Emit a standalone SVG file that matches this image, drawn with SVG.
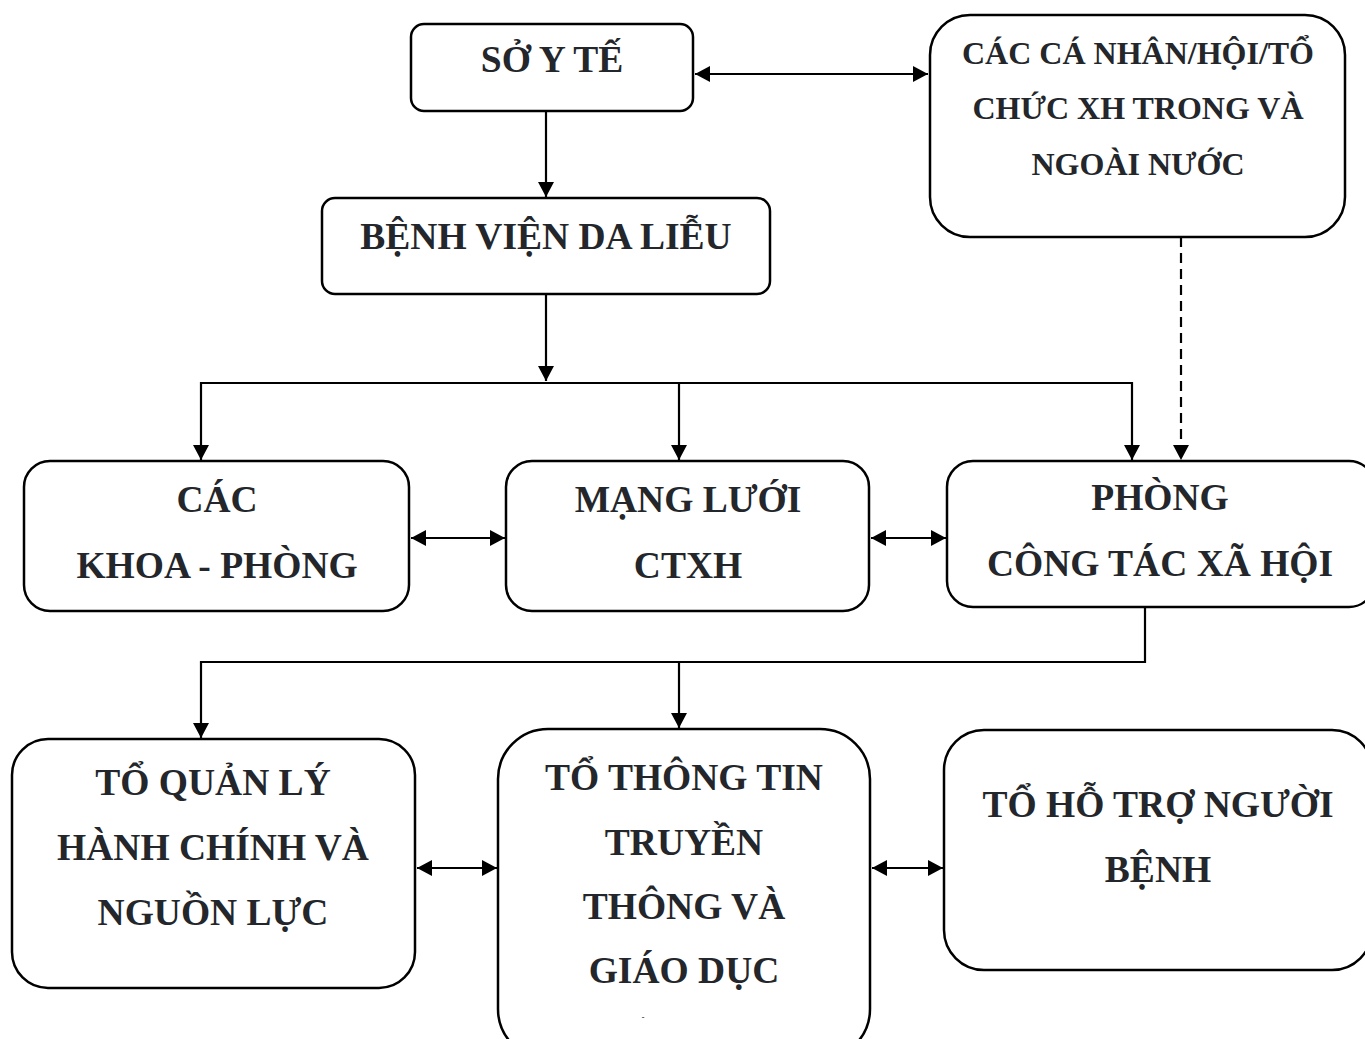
<svg xmlns="http://www.w3.org/2000/svg" width="1365" height="1039" viewBox="0 0 1365 1039">
<style>
.box{fill:#fff;stroke:#000;stroke-width:2.5}
.t{font-family:"Liberation Serif","Times New Roman",serif;font-weight:bold;fill:#23262a;text-anchor:middle}
.l{fill:none;stroke:#000;stroke-width:2.2}
.d{fill:none;stroke:#000;stroke-width:2.2;stroke-dasharray:10,6}
</style>
<defs>
<marker id="ah" markerUnits="userSpaceOnUse" markerWidth="16" markerHeight="16" refX="15" refY="8" orient="auto-start-reverse">
<path d="M0,0 L15,8 L0,16 Z" fill="#000"/>
</marker>
</defs>
<rect width="1365" height="1039" fill="#fff"/>
<g id="connectors">
<line class="l" x1="695" y1="74" x2="928" y2="74" marker-start="url(#ah)" marker-end="url(#ah)"/>
<line class="l" x1="546" y1="111" x2="546" y2="197" marker-end="url(#ah)"/>
<line class="l" x1="546" y1="294" x2="546" y2="381" marker-end="url(#ah)"/>
<polyline class="l" points="201,460 201,383 1132,383 1132,460" marker-start="url(#ah)" marker-end="url(#ah)"/>
<line class="l" x1="679" y1="383" x2="679" y2="460" marker-end="url(#ah)"/>
<line class="d" x1="1181" y1="237" x2="1181" y2="460" marker-end="url(#ah)"/>
<line class="l" x1="411" y1="538" x2="505" y2="538" marker-start="url(#ah)" marker-end="url(#ah)"/>
<line class="l" x1="871" y1="538" x2="946" y2="538" marker-start="url(#ah)" marker-end="url(#ah)"/>
<polyline class="l" points="1145,607 1145,662 201,662 201,738" marker-end="url(#ah)"/>
<line class="l" x1="679" y1="662" x2="679" y2="728" marker-end="url(#ah)"/>
<line class="l" x1="417" y1="868" x2="497" y2="868" marker-start="url(#ah)" marker-end="url(#ah)"/>
<line class="l" x1="872" y1="868" x2="943" y2="868" marker-start="url(#ah)" marker-end="url(#ah)"/>
</g>
<g id="so-y-te">
<rect class="box" x="411" y="24" width="282" height="87" rx="13"/>
<text class="t" x="552" y="72" font-size="37.5">SỞ Y TẾ</text>
</g>
<g id="ca-nhan">
<rect class="box" x="930" y="15" width="415" height="222" rx="40"/>
<text class="t" x="1138" y="64" font-size="32">CÁC CÁ NHÂN/HỘI/TỔ</text>
<text class="t" x="1138" y="119" font-size="32">CHỨC XH TRONG VÀ</text>
<text class="t" x="1138" y="175" font-size="32">NGOÀI NƯỚC</text>
</g>
<g id="benh-vien">
<rect class="box" x="322" y="198" width="448" height="96" rx="13"/>
<text class="t" x="546" y="249" font-size="37.5">BỆNH VIỆN DA LIỄU</text>
</g>
<g id="khoa-phong">
<rect class="box" x="24" y="461" width="385" height="150" rx="26"/>
<text class="t" x="217" y="512" font-size="37.5">CÁC</text>
<text class="t" x="217" y="578" font-size="37.5">KHOA - PHÒNG</text>
</g>
<g id="mang-luoi">
<rect class="box" x="506" y="461" width="363" height="150" rx="26"/>
<text class="t" x="688" y="512" font-size="37.5">MẠNG LƯỚI</text>
<text class="t" x="688" y="578" font-size="37.5">CTXH</text>
</g>
<g id="phong-ctxh">
<rect class="box" x="947" y="461" width="428" height="146" rx="26"/>
<text class="t" x="1160" y="510" font-size="37.5">PHÒNG</text>
<text class="t" x="1160" y="576" font-size="37.5">CÔNG TÁC XÃ HỘI</text>
</g>
<g id="to-quan-ly">
<rect class="box" x="12" y="739" width="403" height="249" rx="36"/>
<text class="t" x="213" y="795" font-size="37.5">TỔ QUẢN LÝ</text>
<text class="t" x="213" y="860" font-size="37.5">HÀNH CHÍNH VÀ</text>
<text class="t" x="213" y="925" font-size="37.5">NGUỒN LỰC</text>
</g>
<g id="to-thong-tin">
<rect class="box" x="498" y="729" width="372" height="330" rx="50"/>
<text class="t" x="684" y="790" font-size="37.5">TỔ THÔNG TIN</text>
<text class="t" x="684" y="855" font-size="37.5">TRUYỀN</text>
<text class="t" x="684" y="919" font-size="37.5">THÔNG VÀ</text>
<text class="t" x="684" y="983" font-size="37.5">GIÁO DỤC</text>
<text class="t" x="643" y="1020" font-size="8">-</text>
</g>
<g id="to-ho-tro">
<rect class="box" x="944" y="730" width="428" height="240" rx="40"/>
<text class="t" x="1158" y="817" font-size="37.5">TỔ HỖ TRỢ NGƯỜI</text>
<text class="t" x="1158" y="882" font-size="37.5">BỆNH</text>
</g>
</svg>
